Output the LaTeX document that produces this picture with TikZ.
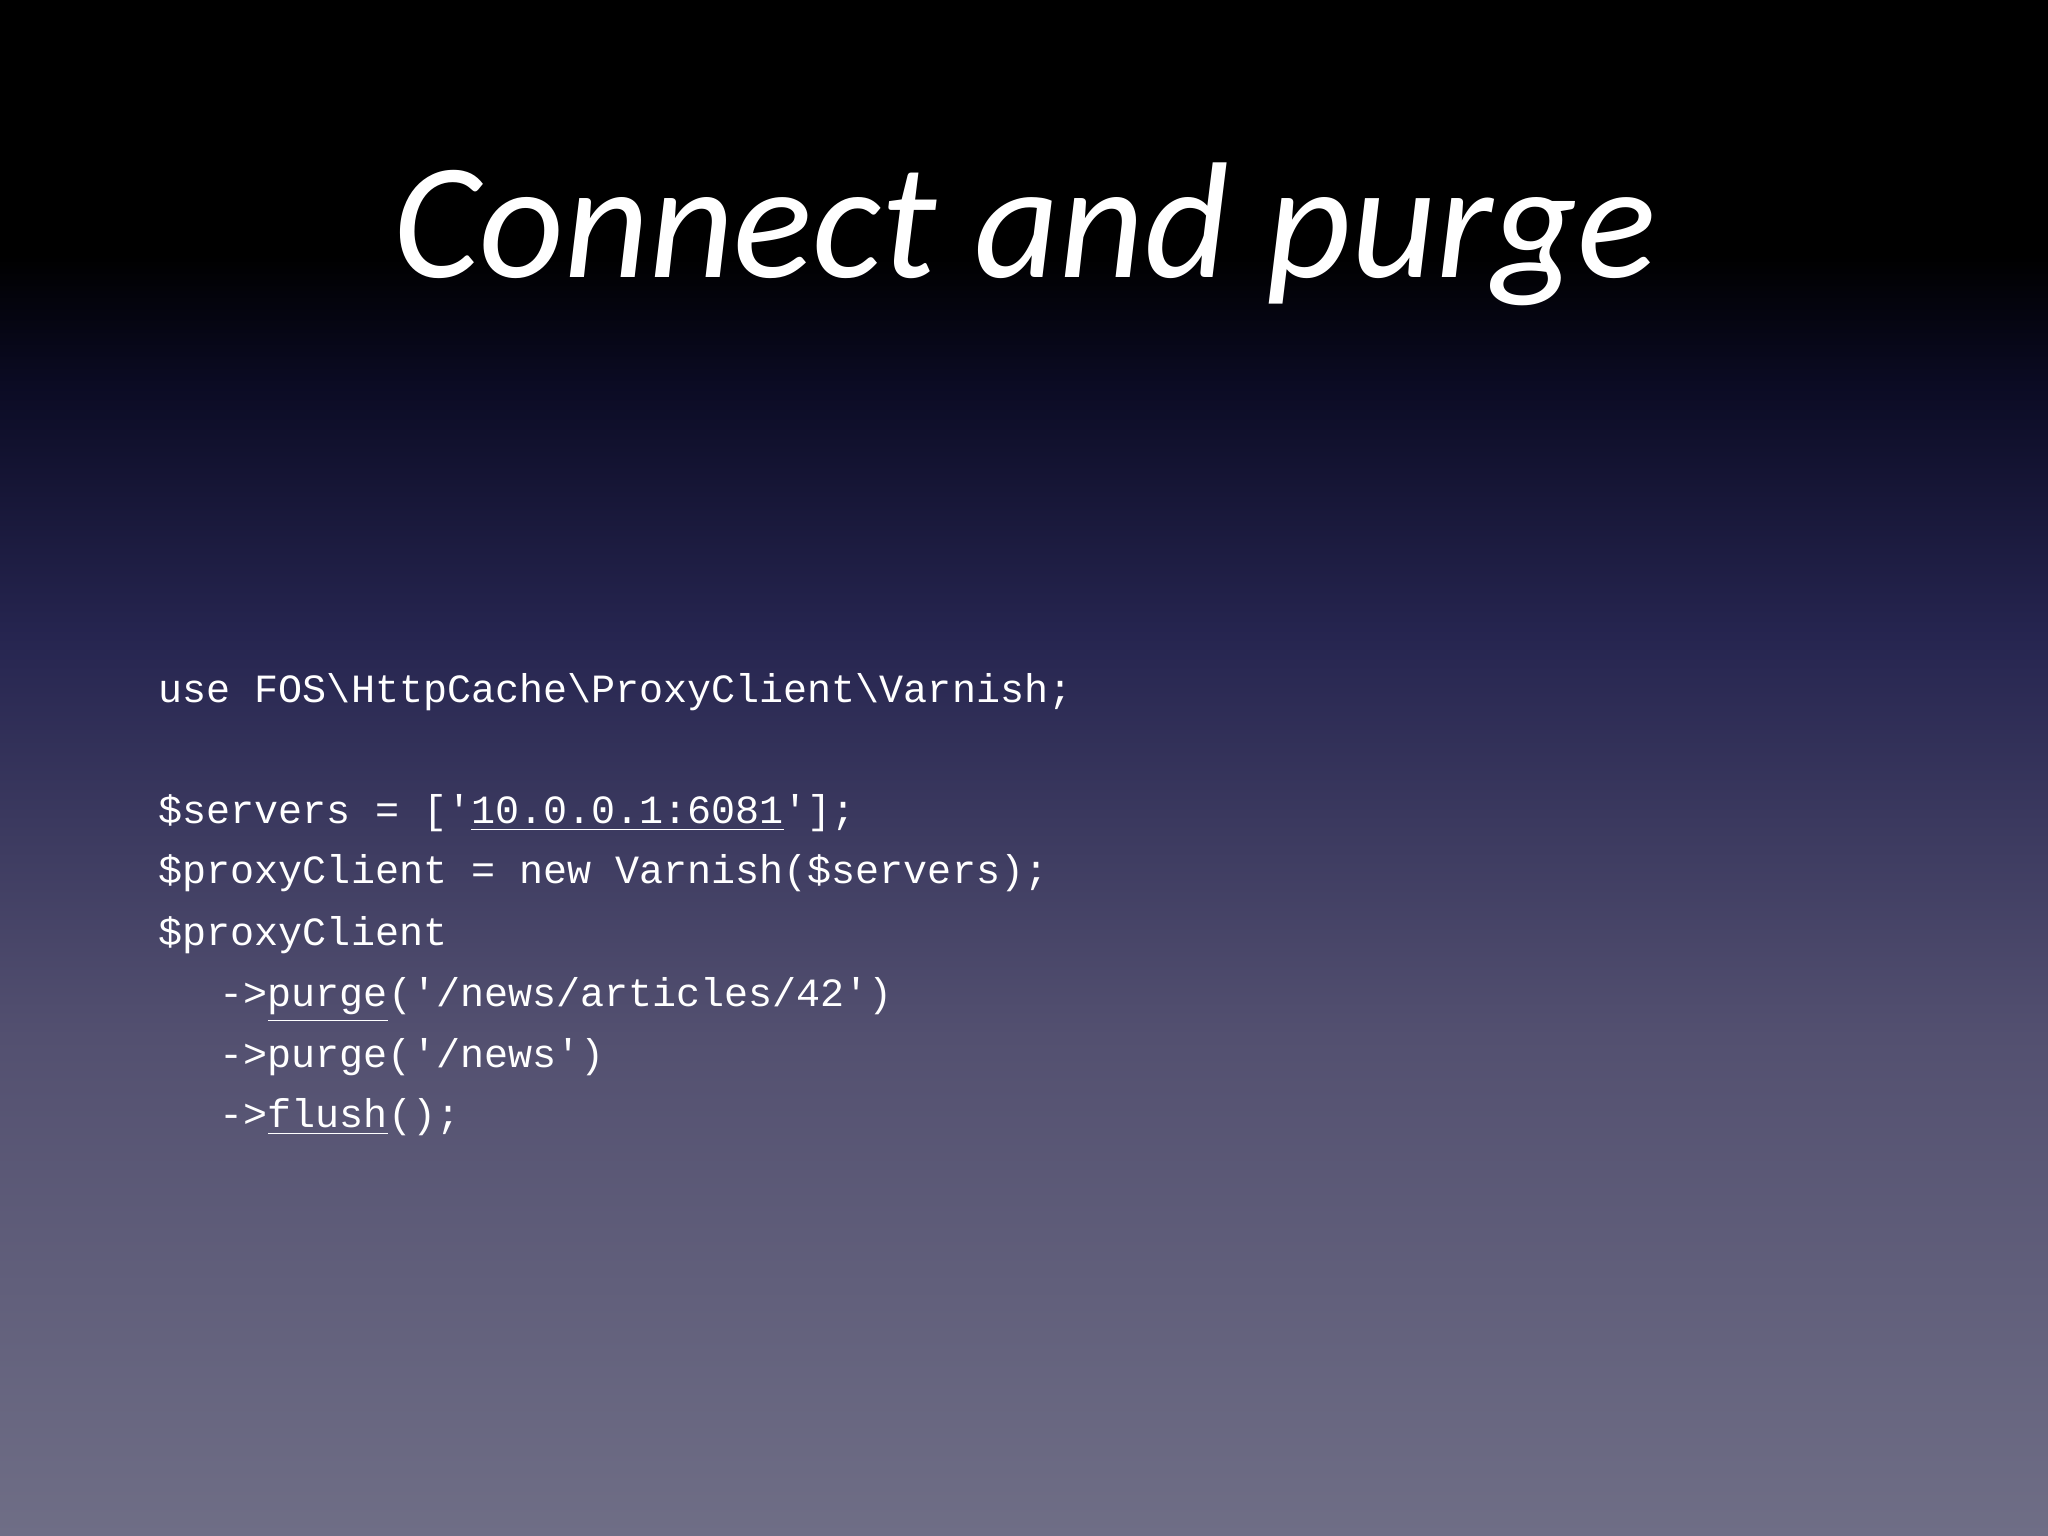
\documentclass[tikz,border=0pt]{standalone}
\usepackage{fontspec}
\setmainfont{Carlito}
\newfontfamily\codefont{Liberation Mono}
\definecolor{bgbot}{HTML}{6F6E86}
\definecolor{bgmid2}{HTML}{535070}
\definecolor{bgmid}{HTML}{262550}
\definecolor{bgtop2}{HTML}{0B0B24}
\begin{document}
\begin{tikzpicture}[
 code/.style={anchor=base west,inner sep=0pt,text=white,font=\codefont\fontsize{11.4pt}{13pt}\selectfont}]
\useasboundingbox (0,0) rectangle (20.48,15.36);
\shade[bottom color=bgbot, top color=bgmid2] (0,0) rectangle (20.48,5);
\shade[bottom color=bgmid2, top color=bgmid] (0,5) rectangle (20.48,9);
\shade[bottom color=bgmid, top color=bgtop2] (0,9) rectangle (20.48,11.5);
\shade[bottom color=bgtop2, top color=black] (0,11.5) rectangle (20.48,12.8);
\fill[black] (0,12.8) rectangle (20.48,15.36);
\node (title) [anchor=base,inner sep=0pt,text=white,font=\itshape\fontsize{47pt}{56pt}\selectfont] at (10.25,12.58) {Connect and purge};
\node (l1) [code] at (1.58,8.33) {use FOS\textbackslash HttpCache\textbackslash ProxyClient\textbackslash Varnish;};
\node (l2) [code] at (1.58,7.12) {\$servers = ['\underline{10.0.0.1:6081}'];};
\node (l3) [code] at (1.58,6.52) {\$proxyClient = new Varnish(\$servers);};
\node (l4) [code] at (1.58,5.90) {\$proxyClient};
\node (l5) [code] at (2.19,5.29) {->\underline{purge}('/news/articles/42')};
\node (l6) [code] at (2.19,4.68) {->purge('/news')};
\node (l7) [code] at (2.19,4.08) {->\underline{flush}();};
\end{tikzpicture}
\end{document}
